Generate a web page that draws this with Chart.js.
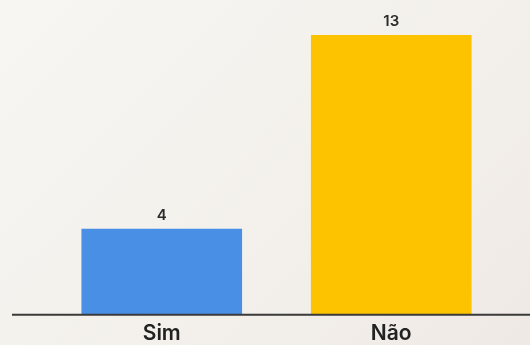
<!DOCTYPE html>
<html>
<head>
<meta charset="utf-8">
<script src="https://cdn.jsdelivr.net/npm/chart.js@4/dist/chart.umd.min.js"></script>
<style>
    html, body {
        margin: 0;
        padding: 0;
        overflow: hidden;
    }
    body {
        width: 530px;
        height: 345px;
        background: linear-gradient(135deg, #f7f6f2 0%, #f3f0eb 60%, #efe9e5 100%);
    }
    canvas {
        display: block;
    }
</style>
</head>
<body>
<!-- canvas runs a few px past the bottom edge so the labels sit close to it -->
<canvas id="answersChart" width="530" height="352"></canvas>
<script>
// Respostas
const categories = ['Sim', 'Não'];
const answers = [4, 13];
const barColors = ['#4a8fe6', '#fdc300'];

const FONT = 'Inter, "Noto Sans", sans-serif';

// Baseline across the whole width, drawn over the bar bottoms
const baselinePlugin = {
    id: 'baseline',
    afterDatasetsDraw(chart) {
        const { ctx, scales } = chart;
        const y = scales.y.getPixelForValue(0);
        ctx.save();
        ctx.strokeStyle = '#3a3a3a';
        ctx.lineWidth = 2;
        ctx.beginPath();
        ctx.moveTo(12, y);
        ctx.lineTo(chart.width, y);
        ctx.stroke();
        ctx.restore();
    }
};

// Value on top of each bar
const valueLabels = {
    id: 'valueLabels',
    afterDatasetsDraw(chart) {
        const { ctx } = chart;
        const meta = chart.getDatasetMeta(0);
        ctx.save();
        ctx.fillStyle = '#2b2b2b';
        ctx.font = `600 15px ${FONT}`;
        ctx.textAlign = 'center';
        ctx.textBaseline = 'alphabetic';
        meta.data.forEach((bar, i) => {
            ctx.fillText(String(answers[i]), bar.x, bar.y - 9);
        });
        ctx.restore();
    }
};

new Chart(document.getElementById('answersChart'), {
    type: 'bar',
    data: {
        labels: categories,
        datasets: [{
            data: answers,
            backgroundColor: barColors,
            borderWidth: 0,
            barPercentage: 0.7,
            categoryPercentage: 1.0
        }]
    },
    options: {
        responsive: false,
        animation: false,
        layout: {
            padding: { top: 35, left: 47, right: 24, bottom: 0 }
        },
        plugins: {
            legend: { display: false },
            tooltip: { enabled: false }
        },
        scales: {
            x: {
                grid: { display: false, drawTicks: false },
                border: { display: false },
                ticks: {
                    color: '#222222',
                    padding: 6,
                    font: { family: FONT, size: 21, weight: '600' }
                }
            },
            y: {
                display: false,
                min: 0,
                max: 13
            }
        }
    },
    plugins: [baselinePlugin, valueLabels]
});
</script>
</body>
</html>
